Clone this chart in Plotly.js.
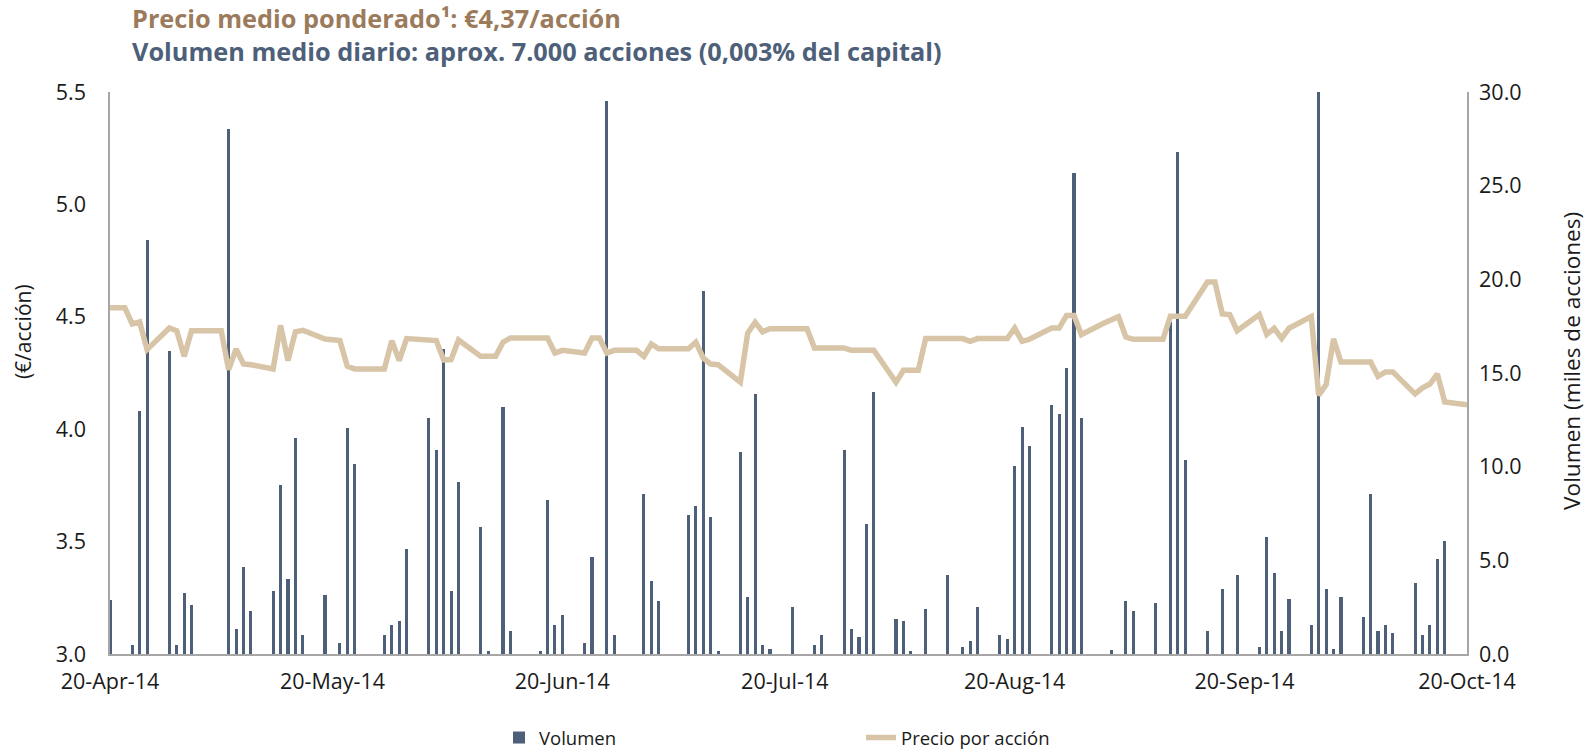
<!DOCTYPE html>
<html>
<head>
<meta charset="utf-8">
<script src="https://cdn.plot.ly/plotly-3.0.1.min.js"></script>
<style>
  html, body { margin: 0; padding: 0; background: #ffffff; }
  #chart { width: 1591px; height: 750px; }
</style>
</head>
<body>
<div id="chart"></div>
<script>
// ---- Data ----
const volumeDates = [
  "2014-04-20","2014-04-23","2014-04-24","2014-04-25","2014-04-28","2014-04-29","2014-04-30","2014-05-01",
  "2014-05-06","2014-05-07","2014-05-08","2014-05-09","2014-05-12","2014-05-13","2014-05-14","2014-05-15","2014-05-16",
  "2014-05-19","2014-05-21","2014-05-22","2014-05-23","2014-05-27","2014-05-28","2014-05-29","2014-05-30",
  "2014-06-02","2014-06-03","2014-06-04","2014-06-05","2014-06-06","2014-06-09","2014-06-10","2014-06-12","2014-06-13",
  "2014-06-17","2014-06-18","2014-06-19","2014-06-20","2014-06-23","2014-06-24","2014-06-26","2014-06-27",
  "2014-07-01","2014-07-02","2014-07-03","2014-07-07","2014-07-08","2014-07-09","2014-07-10","2014-07-11",
  "2014-07-14","2014-07-15","2014-07-16","2014-07-17","2014-07-18","2014-07-21","2014-07-24","2014-07-25",
  "2014-07-28","2014-07-29","2014-07-30","2014-07-31","2014-08-01","2014-08-04","2014-08-05","2014-08-06","2014-08-08",
  "2014-08-11","2014-08-13","2014-08-14","2014-08-15","2014-08-18","2014-08-19","2014-08-20","2014-08-21","2014-08-22",
  "2014-08-25","2014-08-26","2014-08-27","2014-08-28","2014-08-29","2014-09-02","2014-09-04","2014-09-05",
  "2014-09-08","2014-09-10","2014-09-11","2014-09-12","2014-09-15","2014-09-17","2014-09-19",
  "2014-09-22","2014-09-23","2014-09-24","2014-09-25","2014-09-26","2014-09-29","2014-09-30",
  "2014-10-01","2014-10-02","2014-10-03","2014-10-06","2014-10-07","2014-10-08","2014-10-09","2014-10-10",
  "2014-10-13","2014-10-14","2014-10-15","2014-10-16","2014-10-17"
];
const volumeValues = [
  2.9, 0.47, 12.96, 22.1, 16.15, 0.47, 3.25, 2.62,
  28.05, 1.33, 4.63, 2.31, 3.35, 9.0, 4.0, 11.55, 1.02,
  3.13, 0.6, 12.08, 10.16, 1.02, 1.56, 1.76, 5.59,
  12.6, 10.9, 16.3, 3.35, 9.2, 6.77, 0.17, 13.2, 1.23,
  0.17, 8.24, 1.56, 2.07, 0.6, 5.17, 29.5, 1.02,
  8.56, 3.9, 2.84, 7.4, 7.92, 19.4, 7.3, 0.17,
  10.8, 3.03, 13.9, 0.47, 0.27, 2.51, 0.47, 1.02,
  10.9, 1.33, 0.9, 6.96, 14.0, 1.86, 1.76, 0.17, 2.41,
  4.21, 0.37, 0.7, 2.51, 1.02, 0.8, 10.05, 12.1, 11.12,
  13.28, 12.8, 15.28, 25.7, 12.6, 0.23, 2.82, 2.31,
  2.72, 17.7, 26.8, 10.38, 1.23, 3.45, 4.2,
  0.37, 6.23, 4.3, 1.23, 2.93, 1.56, 30.0,
  3.45, 0.27, 3.03, 1.97, 8.56, 1.23, 1.56, 1.13,
  3.79, 1.02, 1.56, 5.07, 6.01
];

const priceDates = [
  "2014-04-20","2014-04-22","2014-04-23","2014-04-24","2014-04-25","2014-04-28","2014-04-29","2014-04-30",
  "2014-05-01","2014-05-02","2014-05-05","2014-05-06","2014-05-07","2014-05-08","2014-05-09",
  "2014-05-12","2014-05-13","2014-05-14","2014-05-15","2014-05-16","2014-05-19","2014-05-20","2014-05-21","2014-05-22","2014-05-23",
  "2014-05-26","2014-05-27","2014-05-28","2014-05-29","2014-05-30",
  "2014-06-02","2014-06-03","2014-06-04","2014-06-05","2014-06-06","2014-06-09","2014-06-10","2014-06-11","2014-06-12","2014-06-13",
  "2014-06-16","2014-06-17","2014-06-18","2014-06-19","2014-06-20","2014-06-23","2014-06-24","2014-06-25","2014-06-26","2014-06-27",
  "2014-06-30","2014-07-01","2014-07-02","2014-07-03","2014-07-04","2014-07-07","2014-07-08","2014-07-09","2014-07-10","2014-07-11",
  "2014-07-14","2014-07-15","2014-07-16","2014-07-17","2014-07-18","2014-07-21","2014-07-22","2014-07-23","2014-07-24","2014-07-25",
  "2014-07-28","2014-07-29","2014-07-30","2014-07-31","2014-08-01","2014-08-04","2014-08-05","2014-08-06","2014-08-07","2014-08-08",
  "2014-08-11","2014-08-12","2014-08-13","2014-08-14","2014-08-15","2014-08-18","2014-08-19","2014-08-20","2014-08-21","2014-08-22",
  "2014-08-25","2014-08-26","2014-08-27","2014-08-28","2014-08-29","2014-09-01","2014-09-02","2014-09-03","2014-09-04","2014-09-05",
  "2014-09-08","2014-09-09","2014-09-10","2014-09-11","2014-09-12","2014-09-15","2014-09-16","2014-09-17","2014-09-18","2014-09-19",
  "2014-09-22","2014-09-23","2014-09-24","2014-09-25","2014-09-26","2014-09-29","2014-09-30",
  "2014-10-01","2014-10-02","2014-10-03","2014-10-06","2014-10-07","2014-10-08","2014-10-09","2014-10-10",
  "2014-10-13","2014-10-14","2014-10-15","2014-10-16","2014-10-17","2014-10-20"
];
const priceValues = [
  4.54, 4.54, 4.468, 4.477, 4.354, 4.45, 4.438, 4.324,
  4.438, 4.438, 4.438, 4.265, 4.357, 4.29, 4.287,
  4.268, 4.462, 4.305, 4.433, 4.44, 4.401, 4.398, 4.394, 4.28, 4.268,
  4.268, 4.268, 4.394, 4.305, 4.403,
  4.397, 4.394, 4.308, 4.31, 4.397, 4.324, 4.324, 4.324, 4.387, 4.406,
  4.406, 4.406, 4.406, 4.339, 4.351, 4.339, 4.406, 4.406, 4.339, 4.351,
  4.351, 4.324, 4.379, 4.358, 4.358, 4.358, 4.387, 4.317, 4.29, 4.287,
  4.209, 4.428, 4.475, 4.433, 4.447, 4.447, 4.447, 4.447, 4.361, 4.361,
  4.361, 4.351, 4.351, 4.351, 4.351, 4.209, 4.262, 4.262, 4.262, 4.403,
  4.403, 4.403, 4.403, 4.391, 4.403, 4.403, 4.403, 4.45, 4.391, 4.40,
  4.45, 4.45, 4.506, 4.506, 4.421, 4.471, 4.487, 4.50, 4.41, 4.40,
  4.40, 4.40, 4.502, 4.502, 4.502, 4.655, 4.655, 4.513, 4.51, 4.438,
  4.51, 4.422, 4.449, 4.404, 4.449, 4.501, 4.151,
  4.198, 4.402, 4.299, 4.299, 4.299, 4.235, 4.255, 4.255,
  4.157, 4.184, 4.201, 4.246, 4.121, 4.109
];

const tickDates = ["2014-04-20","2014-05-20","2014-06-20","2014-07-20","2014-08-20","2014-09-20","2014-10-20"];
const tickLabels = ["20-Apr-14","20-May-14","20-Jun-14","20-Jul-14","20-Aug-14","20-Sep-14","20-Oct-14"];

const titleLine1 = "Precio medio ponderado¹: €4,37/acción";
const titleLine2 = "Volumen medio diario: aprox. 7.000 acciones (0,003% del capital)";
const leftAxisTitle = "(€/acción)";
const rightAxisTitle = "Volumen (miles de acciones)";

// ---- Styles ----
const BAR_COLOR = "#4e5f7a";
const LINE_COLOR = "#d8c4a6";
const AXIS_COLOR = "#a6a6a6";
const FONT = "Open Sans, sans-serif";
const DAY_MS = 86400000;
const W = 1591, H = 750;

const traces = [
  {
    type: "bar",
    name: "Volumen",
    x: volumeDates,
    y: volumeValues,
    width: 0.42 * DAY_MS,
    marker: { color: BAR_COLOR, line: { width: 0 } },
    yaxis: "y",
    xaxis: "x",
    hoverinfo: "x+y"
  },
  {
    type: "scatter",
    mode: "lines",
    name: "Precio por acción",
    x: priceDates,
    y: priceValues,
    line: { color: LINE_COLOR, width: 5.5 },
    yaxis: "y2",
    xaxis: "x",
    hoverinfo: "x+y"
  }
];

const layout = {
  width: W,
  height: H,
  paper_bgcolor: "#ffffff",
  plot_bgcolor: "#ffffff",
  font: { family: FONT, color: "#1a1a1a", size: 18 },
  margin: { l: 110, r: 124, t: 92, b: 96, pad: 0 },
  showlegend: true,
  bargap: 0,
  title: {
    text: "<span style='color:#9b7b5b'>" + titleLine1 + "</span><br><span style='color:#4e5f79'>" + titleLine2 + "</span>",
    font: { family: FONT, size: 25.3, weight: 700, color: "#4e5f79" },
    x: 132 / W,
    xref: "container",
    xanchor: "left",
    y: 1 - 28 / H,
    yref: "container",
    yanchor: "top"
  },
  xaxis: {
    type: "date",
    range: ["2014-04-20", "2014-10-20"],
    tickmode: "array",
    tickvals: tickDates,
    ticktext: tickLabels,
    showgrid: false,
    zeroline: false,
    showline: true,
    linecolor: AXIS_COLOR,
    linewidth: 1.5,
    ticks: "",
    ticklabelstandoff: 7,
    tickfont: { family: FONT, size: 21.5, color: "#1a1a1a" }
  },
  yaxis: {
    side: "right",
    range: [0, 30],
    tickmode: "linear",
    tick0: 0,
    dtick: 5,
    tickformat: ".1f",
    showgrid: false,
    zeroline: false,
    showline: true,
    linecolor: AXIS_COLOR,
    linewidth: 1.5,
    ticks: "",
    ticklabelstandoff: 6,
    tickfont: { family: FONT, size: 21.5, color: "#1a1a1a" }
  },
  yaxis2: {
    overlaying: "y",
    side: "left",
    range: [3, 5.5],
    tickmode: "linear",
    tick0: 3,
    dtick: 0.5,
    tickformat: ".1f",
    showgrid: false,
    zeroline: false,
    showline: true,
    linecolor: AXIS_COLOR,
    linewidth: 1.5,
    ticks: "",
    ticklabelstandoff: 18,
    tickfont: { family: FONT, size: 21.5, color: "#1a1a1a" }
  },
  annotations: [
    {
      text: leftAxisTitle,
      xref: "paper", yref: "paper",
      x: (22.3 - 110) / (W - 110 - 124),
      y: (H - 96 - 331.8) / (H - 92 - 96),
      xanchor: "center", yanchor: "middle",
      textangle: -90,
      showarrow: false,
      font: { family: FONT, size: 21, color: "#1a1a1a" }
    },
    {
      text: rightAxisTitle,
      xref: "paper", yref: "paper",
      x: (1570.7 - 110) / (W - 110 - 124),
      y: (H - 96 - 361.2) / (H - 92 - 96),
      xanchor: "center", yanchor: "middle",
      textangle: -90,
      showarrow: false,
      font: { family: FONT, size: 22.6, color: "#1a1a1a" }
    }
  ],
  legend: {
    orientation: "h",
    xref: "container",
    yref: "container",
    x: 499 / W,
    y: 12 / H,
    xanchor: "left",
    yanchor: "middle",
    entrywidth: 317,
    entrywidthmode: "pixels",
    font: { family: FONT, size: 18.5, color: "#1a1a1a" },
    bgcolor: "rgba(0,0,0,0)",
    traceorder: "normal"
  }
};

Plotly.newPlot("chart", traces, layout, { displayModeBar: false, responsive: false });
</script>
</body>
</html>
